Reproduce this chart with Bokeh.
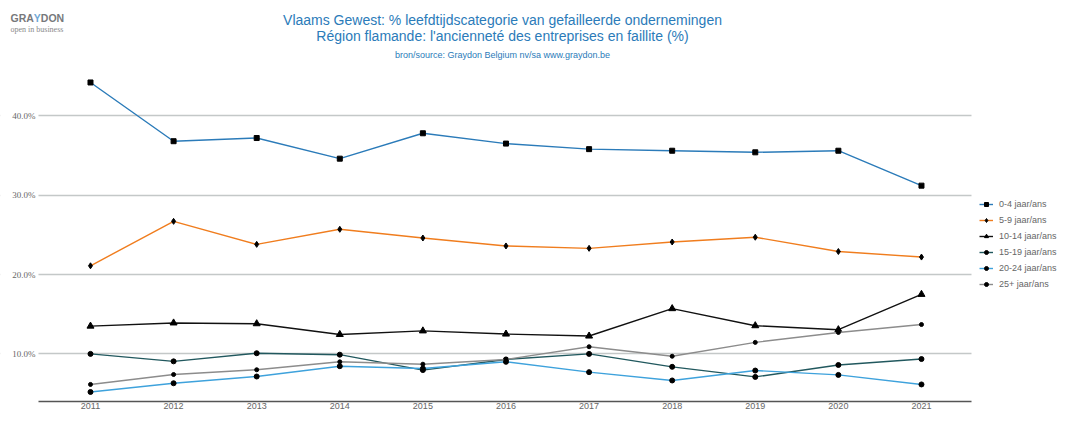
from bokeh.plotting import figure
from bokeh.models import (Range1d, FixedTicker, Legend, LegendItem, Label,
                          LabelSet, ColumnDataSource, BoxAnnotation)
from bokeh.embed import file_html
from bokeh.resources import INLINE

years = [2011, 2012, 2013, 2014, 2015, 2016, 2017, 2018, 2019, 2020, 2021]
age_0_4 = [44.2, 36.8, 37.2, 34.6, 37.8, 36.5, 35.8, 35.6, 35.4, 35.6, 31.2]
age_5_9 = [21.1, 26.7, 23.8, 25.7, 24.6, 23.6, 23.3, 24.1, 24.7, 22.9, 22.2]
age_10_14 = [13.5, 13.9, 13.8, 12.45, 12.9, 12.5, 12.25, 15.7, 13.55, 13.05, 17.5]
age_15_19 = [10.0, 9.06, 10.08, 9.9, 7.96, 9.3, 10.0, 8.37, 7.1, 8.6, 9.35]
age_20_24 = [5.2, 6.3, 7.15, 8.45, 8.15, 9.0, 7.7, 6.65, 7.9, 7.35, 6.15]
age_25p = [6.15, 7.4, 8.0, 9.0, 8.7, 9.3, 10.9, 9.7, 11.45, 12.7, 13.7]

series_names = ["0-4 jaar/ans", "5-9 jaar/ans", "10-14 jaar/ans",
                "15-19 jaar/ans", "20-24 jaar/ans", "25+ jaar/ans"]
y_ticks = [10, 20, 30, 40]
y_tick_labels = ["10.0%", "20.0%", "30.0%", "40.0%"]

title_1 = "Vlaams Gewest: % leefdtijdscategorie van gefailleerde ondernemingen"
title_2 = "Région flamande: l'ancienneté des entreprises en faillite (%)"
source_note = "bron/source: Graydon Belgium nv/sa www.graydon.be"

FONT = "Liberation Sans"
BLUE = "#2b7bb9"
GREY_TXT = "#666666"

# plotting area limits (data units) – the frame itself spans the whole figure
X_LO, X_HI = 2010.374, 2021.602

p = figure(width=1058, height=411, output_backend="svg", toolbar_location=None,
           x_range=Range1d(2009.917, 2022.649), y_range=Range1d(4.0, 54.53),
           min_border_left=0, min_border_right=0, min_border_top=0,
           min_border_bottom=0, outline_line_color=None)
p.yaxis.visible = False

# mask the grid outside the plotting area
for kw in (dict(right=X_LO), dict(left=X_HI)):
    p.add_layout(BoxAnnotation(fill_color="white", fill_alpha=1.0,
                               line_alpha=0, level="underlay", **kw))

styles = [
    (age_0_4, "#2b7bb9", "square", 5),
    (age_5_9, "#f07d1e", "diamond", 6),
    (age_10_14, "#111111", "triangle", 7),
    (age_15_19, "#21585e", "circle", 5),
    (age_20_24, "#3ea2dc", "circle", 5),
    (age_25p, "#8c8c8c", "circle", 4),
]

items = []
for name, (vals, col, mk, sz) in zip(series_names, styles):
    r1 = p.line(years, vals, line_color=col, line_width=1.4)
    r2 = p.scatter(years, vals, marker=mk, size=sz, fill_color="black",
                   line_color="black")
    items.append(LegendItem(label=name, renderers=[r1, r2]))

legend = Legend(items=items, location=(979, 112), label_text_font=FONT,
                label_text_font_size="9px", label_text_color=GREY_TXT,
                glyph_width=14, glyph_height=10, spacing=6, padding=0,
                margin=0, border_line_color=None, background_fill_alpha=0,
                label_standoff=6, label_height=10, label_width=60)
p.add_layout(legend)

# x axis
p.xaxis.ticker = FixedTicker(ticks=years)
p.xaxis.bounds = (X_LO, X_HI)
p.xaxis.axis_line_color = "#555555"
p.xaxis.axis_line_width = 1.5
p.xaxis.major_tick_line_color = None
p.xaxis.minor_tick_line_color = None
p.xaxis.major_tick_out = 0
p.xaxis.major_tick_in = 0
p.xaxis.minor_tick_out = 0
p.xaxis.major_label_text_font = FONT
p.xaxis.major_label_text_font_size = "9px"
p.xaxis.major_label_text_color = GREY_TXT
p.xaxis.major_label_standoff = 1

# y tick labels, gridlines
ysrc = ColumnDataSource(dict(y=y_ticks, text=y_tick_labels))
p.add_layout(LabelSet(x=35, y="y", text="text", x_units="screen", source=ysrc,
                      text_align="right", text_baseline="middle",
                      text_font=FONT, text_font_size="9px",
                      text_color=GREY_TXT))
p.ygrid.ticker = FixedTicker(ticks=y_ticks)
p.xgrid.grid_line_color = None
p.ygrid.grid_line_color = "#c4c8c8"
p.ygrid.grid_line_width = 1.5


def lab(text, x, y, size, color, align="left", font=FONT, style="normal"):
    p.add_layout(Label(x=x, y=y, x_units="screen", y_units="screen", text=text,
                       text_align=align, text_baseline="middle",
                       text_font=font, text_font_size=size,
                       text_font_style=style, text_color=color))


# titles (screen px from the frame's bottom-left)
lab(title_1, 502, 382, "14px", BLUE, align="center")
lab(title_2, 502, 366, "14px", BLUE, align="center")
lab(source_note, 502, 346.5, "9px", BLUE, align="center")

# logo
lab("GRA", 10, 384, "10.5px", "#77787b", style="bold")
lab("Y", 33.3, 384, "10.5px", "#6fa8d6", style="bold")
lab("DON", 40.3, 384, "10.5px", "#77787b", style="bold")
lab("open in business", 10, 372.5, "8px", "#8a8a8a", font="Liberation Serif")

open("out.html", "w").write(file_html(p, INLINE))
